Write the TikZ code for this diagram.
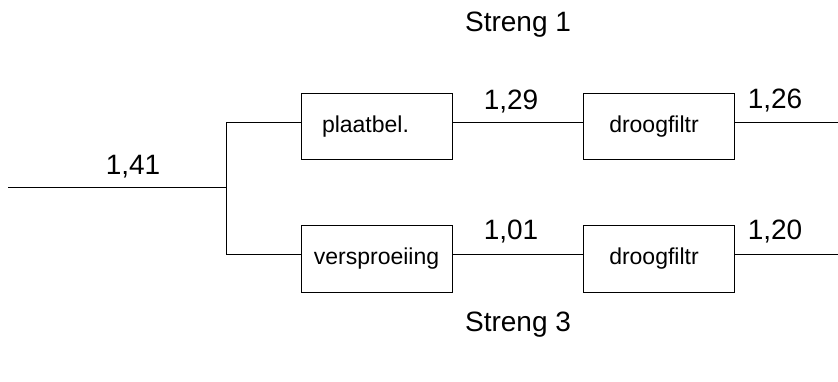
\documentclass[tikz,border=0pt]{standalone}
\usepackage{fontspec}
\setmainfont{Liberation Sans}
\begin{document}
\begin{tikzpicture}[x=1pt,y=-1pt,
  every path/.style={line width=1pt},
  blk/.style={draw, line width=1pt, minimum width=151pt, minimum height=66pt, inner sep=0pt, font=\fontsize{23}{26}\selectfont},
  val/.style={inner sep=0pt, font=\fontsize{28}{32}\selectfont},
  ttl/.style={inner sep=0pt, font=\fontsize{28}{32}\selectfont}]
\useasboundingbox (0,0) rectangle (838,382);
% rows
\coordinate (r1) at (0,123);
\coordinate (r3) at (0,254);
\coordinate (in) at (8,188);
\coordinate (sp) at (226,188);
\coordinate (out1) at (838,123);
\coordinate (out3) at (838,254);
% boxes
\node[blk] (a) at (376.5,127) {plaatbel.\kern22pt\relax};
\node[blk] (b) at (658.5,127) {droogfiltr\kern9pt\relax};
\node[blk] (c) at (376.5,259) {versproeiing};
\node[blk] (d) at (658.5,259) {droogfiltr\kern9pt\relax};
% connectors
\draw (in) -- (sp);
\draw (sp |- r1) -- (sp |- r3);
\draw (sp |- r1) -- (a.west |- r1);
\draw (sp |- r3) -- (c.west |- r3);
\draw (a.east |- r1) -- (b.west |- r1);
\draw (c.east |- r3) -- (d.west |- r3);
\draw (b.east |- r1) -- (out1);
\draw (d.east |- r3) -- (out3);
% labels
\node[val] (v141) at (133,167) {1,41};
\node[val] (v129) at (511,102) {1,29};
\node[val] (v101) at (511,232) {1,01};
\node[val] (v126) at (775,101) {1,26};
\node[val] (v120) at (775,232) {1,20};
\node[ttl] (s1) at (518,25) {Streng 1};
\node[ttl] (s3) at (518,325) {Streng 3};
\end{tikzpicture}
\end{document}
